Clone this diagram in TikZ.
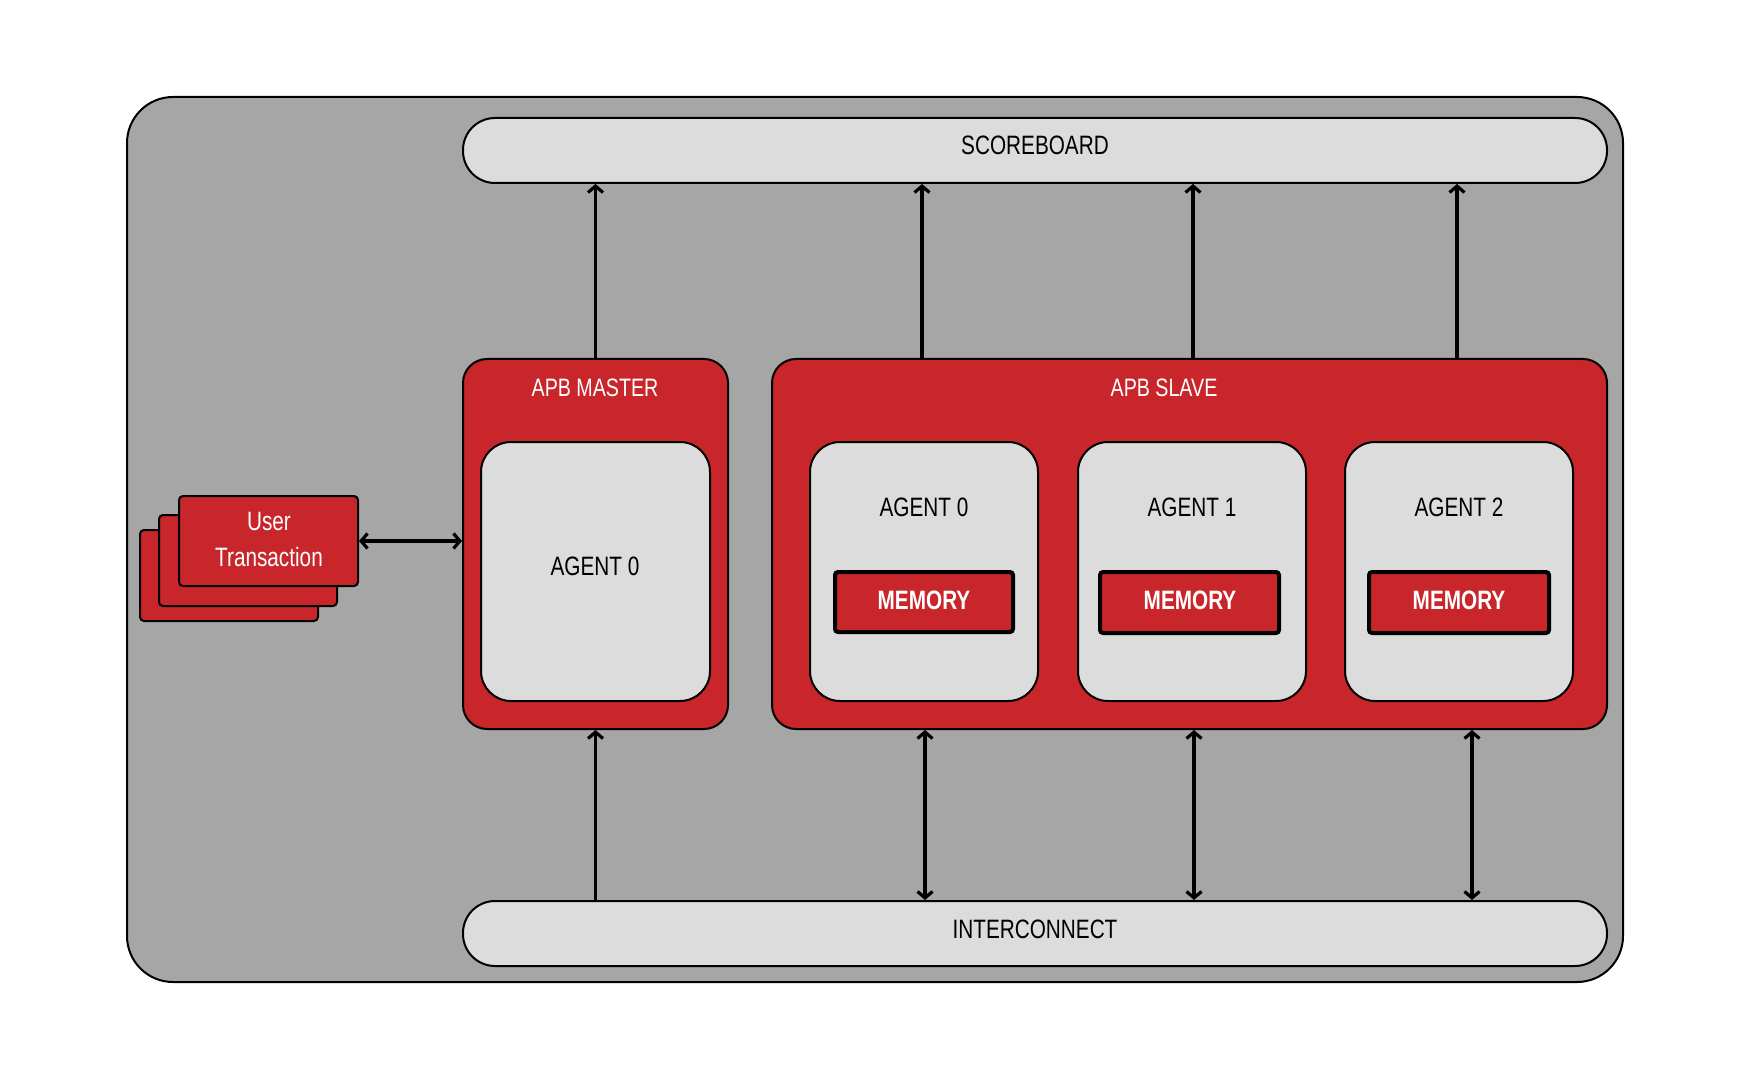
\documentclass[tikz,border=0pt]{standalone}
\usepackage{fontspec}
\setmainfont{Liberation Sans}[FakeStretch=0.78]
\usetikzlibrary{arrows.meta,fit}
\definecolor{outergray}{HTML}{A6A6A6}
\definecolor{lightfill}{HTML}{DCDCDC}
\definecolor{apbred}{HTML}{C8262A}
\begin{document}
\begin{tikzpicture}[x=0.5pt,y=-0.5pt,
  every node/.style={font=\fontsize{13.3}{16}\selectfont},
  outerbox/.style={draw=black, line width=1pt, fill=outergray, rounded corners=23pt, inner sep=0pt},
  busbox/.style={draw=black, line width=1pt, fill=lightfill, rounded corners=16pt, inner sep=0pt},
  apbbox/.style={draw=black, line width=1pt, fill=apbred, rounded corners=12pt, inner sep=0pt},
  agentbox/.style={draw=black, line width=1pt, fill=lightfill, rounded corners=15pt, inner sep=0pt},
  membox/.style={draw=black, line width=2pt, fill=apbred, rounded corners=1.5pt, inner sep=0pt},
  memtext/.style={text=white, font=\bfseries\fontsize{13.3}{16}\selectfont},
  cardbox/.style={draw=black, line width=1pt, fill=apbred, rounded corners=2pt, inner sep=0pt},
  whitelabel/.style={text=white, font=\fontsize{12.6}{16}\selectfont},
  conn/.style={line width=1.6pt, -{Straight Barb[length=3.2pt,width=7.5pt]}},
  dconn/.style={line width=1.6pt, {Straight Barb[length=3.2pt,width=7.5pt]}-{Straight Barb[length=3.2pt,width=7.5pt]}}
]
\useasboundingbox (0,0) rectangle (1750,1080);
\fill[white] (0,0) rectangle (1750,1080);

\node[outerbox, fit={(127,97)(1623,982)}] (outer) {};

\node[busbox, fit={(463,118)(1607,183)}] (scoreboard) {};
\node (sblbl) at (1035,145) {SCOREBOARD};
\node[busbox, fit={(463,901)(1607,966)}] (interconnect) {};
\node (iclbl) at (1035,929) {INTERCONNECT};

\node[apbbox, fit={(463,359)(728,729)}] (master) {};
\node[apbbox, fit={(772,359)(1607,729)}] (slave) {};
\node[whitelabel] (masterlbl) at (595,388) {APB MASTER};
\node[whitelabel] (slavelbl) at (1164,388) {APB SLAVE};

\node[agentbox, fit={(481,442)(710,701)}] (magent) {};
\node (malbl) at (595,566) {AGENT 0};

\node[agentbox, fit={(810,442)(1038,701)}] (sagent0) {};
\node[agentbox, fit={(1078,442)(1306,701)}] (sagent1) {};
\node[agentbox, fit={(1345,442)(1573,701)}] (sagent2) {};
\node (sa0lbl) at (924,507) {AGENT 0};
\node (sa1lbl) at (1192,507) {AGENT 1};
\node (sa2lbl) at (1459,507) {AGENT 2};

\node[membox, fit={(835,572)(1013,632)}] (mem0) {};
\node[membox, fit={(1100,572)(1279,633)}] (mem1) {};
\node[membox, fit={(1369,572)(1549,633)}] (mem2) {};
\node[memtext] (m0lbl) at (924,600) {MEMORY};
\node[memtext] (m1lbl) at (1190,600) {MEMORY};
\node[memtext] (m2lbl) at (1459,600) {MEMORY};

\node[cardbox, fit={(140,530)(318,621)}] (card3) {};
\node[cardbox, fit={(159,515)(337,606)}] (card2) {};
\node[cardbox, fit={(179,496)(358,586)}] (card1) {};
\node[text=white] (ulbl) at (269,521) {User};
\node[text=white] (tlbl) at (269,557) {Transaction};

\draw[dconn] (card1.east) -- (master.west |- card1.east);

\draw[conn] (master.north) -- (scoreboard.south -| master.north);
\draw[conn] (slave.north -| 922,0) -- (scoreboard.south -| 922,0);
\draw[conn] (slave.north -| 1193,0) -- (scoreboard.south -| 1193,0);
\draw[conn] (slave.north -| 1457,0) -- (scoreboard.south -| 1457,0);

\draw[conn] (interconnect.north -| master.south) -- (master.south);
\draw[dconn] (interconnect.north -| 925,0) -- (slave.south -| 925,0);
\draw[dconn] (interconnect.north -| 1194,0) -- (slave.south -| 1194,0);
\draw[dconn] (interconnect.north -| 1472,0) -- (slave.south -| 1472,0);
\end{tikzpicture}
\end{document}
